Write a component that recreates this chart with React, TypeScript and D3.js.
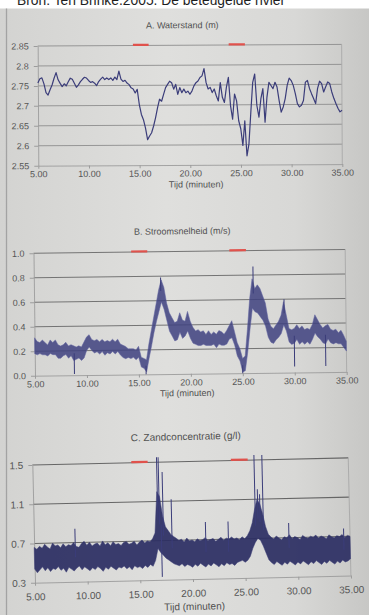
import React, { useEffect, useRef } from "react";
import * as d3 from "d3";

// Bron: Ten Brinke 2005 - three measurement series against time (minutes)
const tStart = 5;
const xTicks = [5, 10, 15, 20, 25, 30, 35];
const tideBars = [
  [14.4, 15.95],
  [23.85, 25.45],
];

// A. Waterstand (m), one reading every 0.2 min
const stepA = 0.2;
const waterstand = [
  2.757, 2.768, 2.77, 2.755, 2.733, 2.727, 2.74, 2.752, 2.769, 2.783,
  2.765, 2.756, 2.748, 2.755, 2.75, 2.76, 2.769, 2.766, 2.756, 2.746,
  2.752, 2.76, 2.766, 2.771, 2.769, 2.763, 2.758, 2.76, 2.756, 2.75,
  2.76, 2.766, 2.771, 2.765, 2.769, 2.765, 2.769, 2.763, 2.771, 2.765,
  2.786, 2.766, 2.76, 2.763, 2.756, 2.752, 2.744, 2.741, 2.731, 2.74,
  2.702, 2.677, 2.664, 2.643, 2.614, 2.623, 2.631, 2.648, 2.669, 2.694,
  2.715, 2.71, 2.727, 2.744, 2.752, 2.76, 2.756, 2.74, 2.752, 2.727,
  2.744, 2.731, 2.74, 2.731, 2.735, 2.727, 2.735, 2.748, 2.756, 2.76,
  2.769, 2.773, 2.791, 2.756, 2.74, 2.744, 2.731, 2.74, 2.723, 2.71,
  2.756, 2.719, 2.706, 2.744, 2.769, 2.698, 2.664, 2.727, 2.71, 2.66,
  2.64, 2.598, 2.66, 2.572, 2.602, 2.681, 2.756, 2.777, 2.698, 2.669,
  2.715, 2.74, 2.656, 2.719, 2.756, 2.748, 2.74, 2.756, 2.744, 2.71,
  2.681, 2.694, 2.715, 2.748, 2.766, 2.76, 2.748, 2.727, 2.702, 2.694,
  2.698, 2.71, 2.756, 2.76, 2.74, 2.727, 2.715, 2.702, 2.74, 2.758,
  2.752, 2.731, 2.744, 2.756, 2.752, 2.731, 2.715, 2.702, 2.69, 2.681,
  2.685,
];
const yTicksA = [2.55, 2.6, 2.65, 2.7, 2.75, 2.8, 2.85];

// B. Stroomsnelheid (m/s), lower / upper edge of the noisy trace every 0.25 min
const stepB = 0.25;
const snelheidHi = [
  0.31, 0.28, 0.27, 0.29, 0.27, 0.25, 0.29, 0.27, 0.29, 0.25, 0.24, 0.25,
  0.27, 0.24, 0.25, 0.24, 0.23, 0.24, 0.23, 0.27, 0.31, 0.33, 0.29, 0.28,
  0.29, 0.27, 0.29, 0.27, 0.28, 0.27, 0.29, 0.27, 0.29, 0.25, 0.24, 0.23,
  0.21, 0.21, 0.21, 0.2, 0.23, 0.14, 0.13, 0.12, 0.25, 0.36, 0.47, 0.58,
  0.69, 0.77, 0.71, 0.58, 0.5, 0.46, 0.42, 0.43, 0.5, 0.44, 0.43, 0.51,
  0.43, 0.38, 0.35, 0.36, 0.34, 0.35, 0.32, 0.35, 0.32, 0.34, 0.32, 0.35,
  0.34, 0.32, 0.35, 0.39, 0.43, 0.34, 0.25, 0.2, 0.12, 0.14, 0.36, 0.61,
  0.77, 0.69, 0.72, 0.69, 0.63, 0.57, 0.44, 0.38, 0.36, 0.39, 0.42, 0.47,
  0.58, 0.47, 0.36, 0.35, 0.36, 0.39, 0.36, 0.38, 0.35, 0.36, 0.35, 0.39,
  0.47, 0.43, 0.39, 0.36, 0.38, 0.39, 0.35, 0.34, 0.35, 0.32, 0.34, 0.3,
  0.25,
];
const snelheidLo = [
  0.18, 0.17, 0.18, 0.17, 0.17, 0.16, 0.18, 0.17, 0.17, 0.14, 0.14, 0.16,
  0.17, 0.14, 0.16, 0.12, 0.13, 0.14, 0.12, 0.14, 0.2, 0.23, 0.2, 0.18,
  0.19, 0.17, 0.19, 0.16, 0.18, 0.17, 0.19, 0.17, 0.19, 0.16, 0.14, 0.13,
  0.14, 0.13, 0.14, 0.12, 0.14, 0.06, 0.05, 0.02, 0.13, 0.23, 0.34, 0.43,
  0.51, 0.59, 0.53, 0.44, 0.35, 0.31, 0.27, 0.28, 0.34, 0.29, 0.31, 0.35,
  0.29, 0.25, 0.24, 0.23, 0.23, 0.24, 0.23, 0.23, 0.23, 0.24, 0.21, 0.24,
  0.23, 0.23, 0.24, 0.28, 0.29, 0.23, 0.14, 0.1, 0.01, 0.02, 0.17, 0.36,
  0.53, 0.5, 0.49, 0.46, 0.43, 0.38, 0.29, 0.25, 0.24, 0.27, 0.29, 0.32,
  0.39, 0.34, 0.25, 0.23, 0.24, 0.27, 0.23, 0.25, 0.23, 0.25, 0.23, 0.27,
  0.32, 0.29, 0.27, 0.24, 0.23, 0.27, 0.24, 0.23, 0.24, 0.23, 0.23, 0.2,
  0.17,
];
const snelheidSpikeT = [8.8, 15.7, 17.2, 25.0, 26.1, 29.05, 30.0, 33.0];
const snelheidSpikeV = [0.01, 0.0, 0.79, 0.0, 0.87, 0.6, 0.05, 0.05];
const yTicksB = [0, 0.2, 0.4, 0.6, 0.8, 1.0];

// C. Zandconcentratie (g/l), lower / upper edge every 0.25 min
const stepC = 0.25;
const zandLo = [
  0.44, 0.4, 0.43, 0.46, 0.42, 0.45, 0.41, 0.44, 0.43, 0.46, 0.42, 0.44,
  0.4, 0.45, 0.43, 0.41, 0.44, 0.46, 0.42, 0.45, 0.43, 0.41, 0.44, 0.42,
  0.45, 0.43, 0.4, 0.44, 0.42, 0.45, 0.43, 0.41, 0.44, 0.43, 0.45, 0.42,
  0.44, 0.41, 0.45, 0.43, 0.44, 0.42, 0.45, 0.43, 0.46, 0.44, 0.5, 0.62,
  0.58, 0.55, 0.52, 0.5, 0.48, 0.46, 0.45, 0.44, 0.46, 0.43, 0.45, 0.44,
  0.42, 0.45, 0.43, 0.46, 0.44, 0.42, 0.45, 0.43, 0.46, 0.44, 0.42, 0.45,
  0.43, 0.46, 0.44, 0.45, 0.43, 0.46, 0.47, 0.48, 0.46, 0.48, 0.52, 0.6,
  0.66, 0.7, 0.68, 0.62, 0.55, 0.48, 0.45, 0.43, 0.46, 0.44, 0.42, 0.45,
  0.43, 0.46, 0.44, 0.42, 0.45, 0.43, 0.46, 0.44, 0.42, 0.45, 0.43, 0.46,
  0.44, 0.42, 0.45, 0.43, 0.46, 0.44, 0.42, 0.45, 0.43, 0.46, 0.44, 0.45,
  0.47,
];
const zandHi = [
  0.66, 0.64, 0.67, 0.65, 0.69, 0.66, 0.64, 0.7, 0.67, 0.68, 0.65, 0.69,
  0.66, 0.68, 0.67, 0.7, 0.66, 0.65, 0.69, 0.71, 0.67, 0.7, 0.66, 0.68,
  0.69, 0.66, 0.71, 0.67, 0.69, 0.66, 0.7, 0.67, 0.68, 0.66, 0.69, 0.7,
  0.67, 0.68, 0.7, 0.66, 0.69, 0.71, 0.68, 0.7, 0.69, 0.72, 0.78, 1.2,
  1.15, 0.95, 0.84, 0.8, 0.76, 0.74, 0.72, 0.7, 0.71, 0.68, 0.72, 0.69,
  0.7, 0.68, 0.71, 0.69, 0.7, 0.72, 0.69, 0.7, 0.71, 0.68, 0.7, 0.72,
  0.69, 0.71, 0.7, 0.72, 0.7, 0.71, 0.69, 0.72, 0.7, 0.73, 0.78, 0.86,
  1.0, 1.1, 1.05, 0.95, 0.82, 0.74, 0.71, 0.69, 0.72, 0.7, 0.68, 0.71,
  0.7, 0.73, 0.69, 0.71, 0.7, 0.68, 0.72, 0.7, 0.69, 0.71, 0.7, 0.72,
  0.69, 0.71, 0.7, 0.68, 0.72, 0.7, 0.69, 0.71, 0.7, 0.72, 0.69, 0.71,
  0.7,
];
const zandSpikeT = [8.9, 16.8, 16.95, 17.1, 17.3, 18.1, 21.3, 23.45, 26.05, 26.3, 26.5, 26.8, 29.2, 34.4];
const zandSpikeV = [0.84, 1.55, 1.55, 0.33, 1.4, 1.12, 0.88, 0.88, 1.55, 1.2, 1.15, 1.55, 0.85, 0.78];
const yTicksC = [0.3, 0.7, 1.1, 1.5];

const FONT = "'Liberation Sans', Arial, sans-serif";
const INK = "#3b3d7a";

const panels = [
  {
    id: "A", title: "A. Waterstand (m)", left: 38.3, right: 342.3, top: 46, bottom: 165.7, rot: -0.3,
    domain: [2.55, 2.85], ticks: yTicksA, fmt: (d) => String(+(+d).toFixed(2)),
    titleX: 183, titleY: 29, font: 9, xPad: 2.2, axisTitleX: 196, axisTitleY: 188.3,
    grid: "#8e8e8e", gridW: 0.9,
  },
  {
    id: "B", title: "B. Stroomsnelheid (m/s)", left: 35, right: 346.7, top: 253.3, bottom: 375.7, rot: -0.7,
    domain: [0, 1], ticks: yTicksB, fmt: d3.format(".1f"),
    titleX: 184, titleY: 236, font: 9, xPad: 2.3, axisTitleX: 187, axisTitleY: 398,
    grid: "#747474", gridW: 1,
  },
  {
    id: "C", title: "C. Zandconcentratie (g/l)", left: 35, right: 351, top: 465, bottom: 582.7, rot: -1.3,
    domain: [0.3, 1.5], ticks: yTicksC, fmt: d3.format(".1f"),
    titleX: 189, titleY: 443.5, font: 10, xPad: 7.5, axisTitleX: 194, axisTitleY: 613.5,
    grid: "#666666", gridW: 1.1,
  },
];

const App = () => {
  const chart = useRef(null);

  useEffect(() => {
    const svg = d3.select(chart.current);
    svg.selectAll("*").remove();

    // paper background
    const defs = svg.append("defs");
    const grad = defs.append("linearGradient").attr("id", "paper").attr("x1", 0).attr("x2", 1).attr("y1", 0).attr("y2", 0);
    grad.append("stop").attr("offset", 0).attr("stop-color", "#d3d3d1");
    grad.append("stop").attr("offset", 0.45).attr("stop-color", "#dfdfdd");
    grad.append("stop").attr("offset", 0.8).attr("stop-color", "#d8d8d6");
    grad.append("stop").attr("offset", 1).attr("stop-color", "#c7c7c5");
    svg.append("rect").attr("width", 369).attr("height", 615).attr("fill", "url(#paper)");
    svg.append("rect").attr("width", 369).attr("height", 8.5).attr("fill", "#ffffff");
    svg.append("line").attr("x1", 6.5).attr("x2", 6.5).attr("y1", 8.5).attr("y2", 615)
      .attr("stroke", "#a3a3a3").attr("stroke-width", 1.3);
    svg.append("text").attr("x", 17).attr("y", 4.5).attr("font-family", FONT).attr("font-size", 14)
      .attr("fill", "#1e1e1e").attr("textLength", 268).attr("lengthAdjust", "spacingAndGlyphs")
      .text("Bron: Ten Brinke.2005. De beteugelde rivier");

    panels.forEach((p) => {
      const g = svg.append("g").attr("transform", `rotate(${p.rot},${p.left},${p.bottom})`);
      const x = d3.scaleLinear().domain([5, 35]).range([p.left, p.right]);
      const y = d3.scaleLinear().domain(p.domain).range([p.bottom, p.top]);

      // title
      g.append("text").attr("x", p.titleX).attr("y", p.titleY).attr("text-anchor", "middle")
        .attr("font-family", FONT).attr("font-size", p.font).attr("fill", "#505050").text(p.title);

      // gridlines + right frame
      g.append("g").selectAll("line").data(p.ticks.slice(1)).join("line")
        .attr("x1", p.left).attr("x2", p.right)
        .attr("y1", (d) => y(d)).attr("y2", (d) => y(d))
        .attr("stroke", p.grid).attr("stroke-width", p.gridW);
      g.append("line").attr("x1", p.right).attr("x2", p.right).attr("y1", p.top).attr("y2", p.bottom)
        .attr("stroke", "#a8a8a8").attr("stroke-width", 0.9);

      // axes
      const ya = g.append("g").attr("transform", `translate(${p.left},0)`)
        .call(d3.axisLeft(y).tickValues(p.ticks).tickFormat(p.fmt).tickSize(4).tickPadding(5).tickSizeOuter(0));
      const xa = g.append("g").attr("transform", `translate(0,${p.bottom})`)
        .call(d3.axisBottom(x).tickValues(xTicks).tickFormat(d3.format(".2f")).tickSize(3).tickPadding(p.xPad).tickSizeOuter(0));
      [ya, xa].forEach((a) => {
        a.select(".domain").attr("stroke", "#9c9c9c").attr("stroke-width", 0.9);
        a.selectAll(".tick line").attr("stroke", "#9c9c9c");
        a.selectAll(".tick text").attr("fill", "#555").attr("font-family", FONT).attr("font-size", p.font);
      });
      g.append("text").attr("x", p.axisTitleX).attr("y", p.axisTitleY).attr("text-anchor", "middle")
        .attr("font-family", FONT).attr("font-size", p.font).attr("fill", "#505050").text("Tijd (minuten)");

      // series
      if (p.id === "A") {
        const line = d3.line().x((d, i) => x(tStart + i * stepA)).y((d) => y(d));
        g.append("path").datum(waterstand).attr("d", line).attr("fill", "none")
          .attr("stroke", INK).attr("stroke-width", 1.2).attr("stroke-linejoin", "round");
      } else {
        const isB = p.id === "B";
        const lo = isB ? snelheidLo : zandLo;
        const hi = isB ? snelheidHi : zandHi;
        const step = isB ? stepB : stepC;
        const sT = isB ? snelheidSpikeT : zandSpikeT;
        const sV = isB ? snelheidSpikeV : zandSpikeV;
        const idx = d3.range(lo.length);
        const band = d3.area().x((i) => x(tStart + i * step)).y0((i) => y(lo[i])).y1((i) => y(hi[i]));
        g.append("path").datum(idx).attr("d", band)
          .attr("fill", isB ? "#3e417f" : "#2c2e63")
          .attr("fill-opacity", isB ? 0.85 : 0.93)
          .attr("stroke", isB ? "#6063a0" : "#3a3c76").attr("stroke-width", 0.5);
        g.append("g").selectAll("line").data(sT).join("line")
          .attr("x1", (t) => x(t)).attr("x2", (t) => x(t))
          .attr("y1", (t) => {
            const i = Math.round((t - tStart) / step);
            return y((lo[i] + hi[i]) / 2);
          })
          .attr("y2", (t, k) => y(sV[k]))
          .attr("stroke", INK).attr("stroke-width", 1);
      }

      // tide markers (red bars)
      g.append("g").selectAll("line").data(tideBars).join("line")
        .attr("x1", (d) => x(d[0])).attr("x2", (d) => x(d[1]))
        .attr("y1", p.top - 0.6).attr("y2", p.top - 0.6)
        .attr("stroke", "#e0524c").attr("stroke-width", 2.2);
    });
  }, []);

  return (
    <div style={{ position: "absolute", left: 0, top: 0 }}>
      <svg ref={chart} width={369} height={615} style={{ display: "block" }}></svg>
    </div>
  );
};

export default App;
